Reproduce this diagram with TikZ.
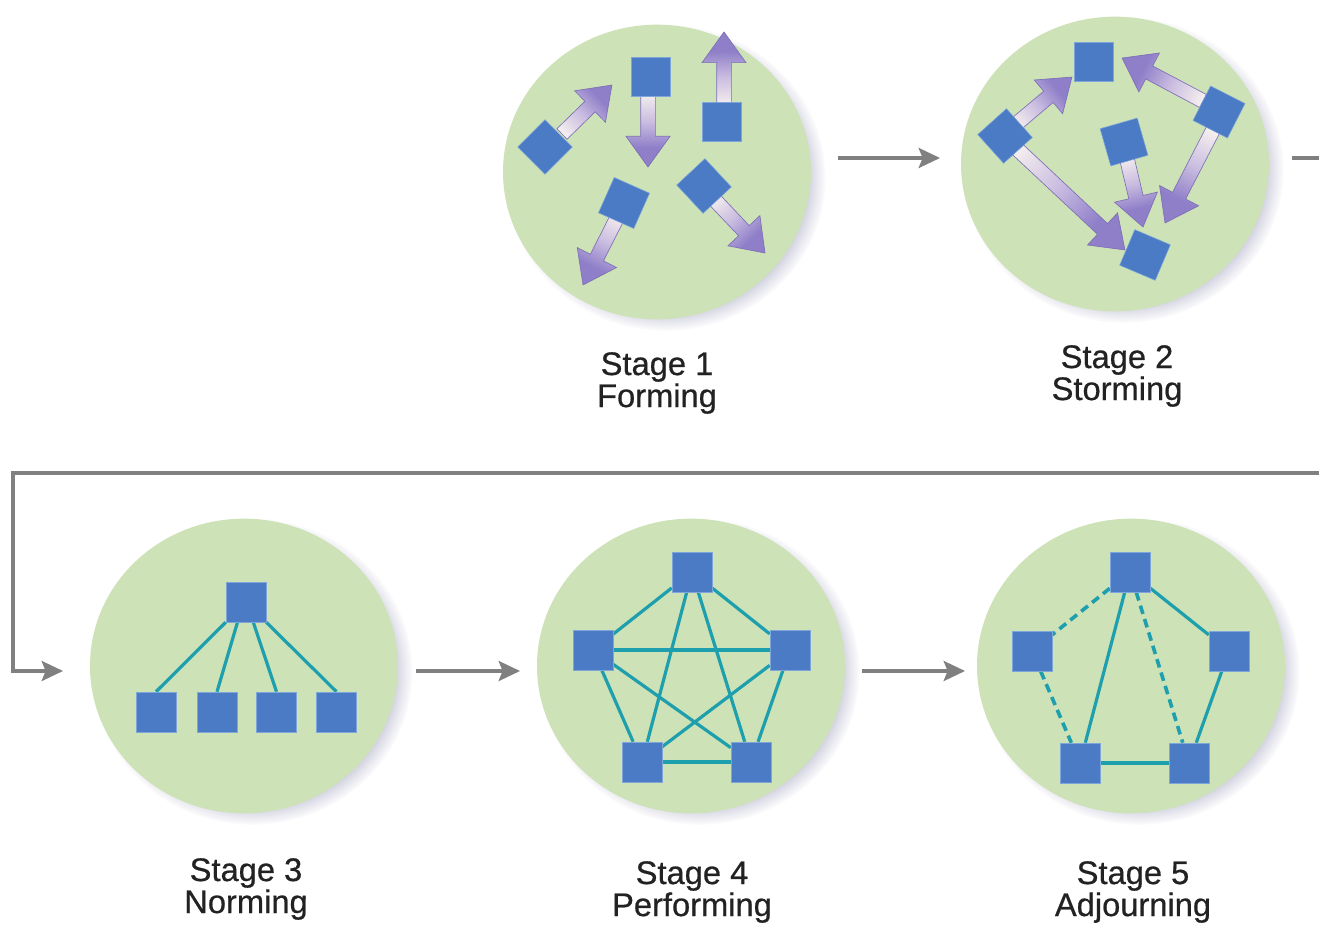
\documentclass[tikz,border=0pt]{standalone}
\usepackage{fontspec}
\newfontfamily\lblfont[FakeBold=0.6]{Liberation Sans}
\usetikzlibrary{shapes.geometric,arrows.meta,calc,shadows,fadings}
\definecolor{circfill}{HTML}{CDE2B6}
\definecolor{sqfill}{HTML}{4A7BC4}
\definecolor{sqedge}{HTML}{7FA6DA}
\definecolor{tealc}{HTML}{1E9FAE}
\definecolor{conngray}{HTML}{808080}
\definecolor{arrtail}{HTML}{F7F1EF}
\definecolor{arrmid}{HTML}{C9BCE0}
\definecolor{arrhead}{HTML}{8F7FC9}
\definecolor{arredge}{HTML}{7E6FB8}
\definecolor{shadowc}{HTML}{9C9CBC}
\definecolor{txtc}{HTML}{222222}
\pgfdeclarehorizontalshading{fatshade}{100bp}{color(0bp)=(arrtail); color(25bp)=(arrtail); color(45bp)=(arrmid); color(62bp)=(arrhead); color(75bp)=(arrhead); color(100bp)=(arrhead)}
\pgfdeclarelayer{bglayer}
\pgfdeclarelayer{circlayer}
\pgfdeclarelayer{linelayer}
\pgfsetlayers{bglayer,circlayer,linelayer,main}
\newcommand{\fatarrow}[2]{%
  \path let \p1=(#1), \p2=(#2) in
    \pgfextra{\pgfmathsetmacro\tmpa{atan2(\y2-\y1,\x2-\x1)}\pgfmathsetmacro\tmpb{veclen(\x2-\x1,\y2-\y1)}\global\let\fatang\tmpa\global\let\fatlen\tmpb};
  \begin{scope}[transform canvas={shift={(#1)},rotate=\fatang}]
    \shadedraw[shading=fatshade, draw=arredge, line width=0.5pt, line join=miter]
      (0pt,-5.5pt) -- ({\fatlen pt-23pt},-5.5pt) -- ({\fatlen pt-23pt},-16.5pt)
      -- (\fatlen pt,0pt) -- ({\fatlen pt-23pt},16.5pt) -- ({\fatlen pt-23pt},5.5pt)
      -- (0pt,5.5pt) -- cycle;
  \end{scope}
}
\tikzset{
  stagecirc/.style={ellipse, fill=circfill, minimum width=231pt, minimum height=221pt, inner sep=0pt,
    circular drop shadow={shadow xshift=6pt, shadow yshift=-4pt, shadow scale=1.04, fill=shadowc, opacity=0.6}},
  sq/.style={rectangle, fill=sqfill, draw=sqedge, line width=0.4pt, minimum size=29pt, inner sep=0pt},
  bsq/.style={rectangle, fill=sqfill, draw=sqedge, line width=0.4pt, minimum size=30pt, inner sep=0pt},
  tl/.style={draw=tealc, line width=2.4pt},
  tld/.style={draw=tealc, line width=2.7pt, dash pattern=on 6.5pt off 4pt},
  conn/.style={draw=conngray, line width=2.6pt, -{Stealth[length=16pt,width=15pt,inset=3pt]}},
  connline/.style={draw=conngray, line width=2.6pt},
  lbl/.style={font=\lblfont\fontsize{24.5pt}{24pt}\selectfont, align=center, text=txtc, inner sep=0pt}
}
\begin{document}
\begin{tikzpicture}[x=0.75pt,y=-0.75pt]
\useasboundingbox (0,0) rectangle (1319,930);
\begin{pgfonlayer}{bglayer}
  \fill[white] (0,0) rectangle (1319,930);
\end{pgfonlayer}

% stage circles
\begin{pgfonlayer}{circlayer}
  \node[stagecirc] (s1) at (657,172) {};
  \node[stagecirc] (s2) at (1115,164) {};
  \node[stagecirc] (s3) at (244,666) {};
  \node[stagecirc] (s4) at (691,666) {};
  \node[stagecirc] (s5) at (1131,666) {};
\end{pgfonlayer}

% ---------- Stage 1 ----------
\node[sq, rotate=45] (f1) at (545,147) {};
\node[sq] (f2) at (651,77) {};
\node[sq] (f3) at (722,122) {};
\node[sq, rotate=-24] (f4) at (624,203) {};
\node[sq, rotate=43] (f5) at (704,186) {};
\coordinate (p1t) at (562,134); \coordinate (p1h) at (612,85);
\coordinate (p2t) at (648,92);  \coordinate (p2h) at (648,167);
\coordinate (p3t) at (724,106); \coordinate (p3h) at (724,32);
\coordinate (p4t) at (619,214); \coordinate (p4h) at (583,285);
\coordinate (p5t) at (712,197); \coordinate (p5h) at (765,253);
\begin{pgfonlayer}{linelayer}
  \fatarrow{p1t}{p1h}
  \fatarrow{p2t}{p2h}
  \fatarrow{p3t}{p3h}
  \fatarrow{p4t}{p4h}
  \fatarrow{p5t}{p5h}
\end{pgfonlayer}

% ---------- Stage 2 ----------
\node[sq] (g1) at (1094,62) {};
\node[sq, rotate=42] (g2) at (1005,136) {};
\node[sq, rotate=-27] (g3) at (1219,112) {};
\node[sq, rotate=16] (g4) at (1124,142) {};
\node[sq, rotate=-23] (g5) at (1145,255) {};
\coordinate (q1t) at (1015,125); \coordinate (q1h) at (1072,77);
\coordinate (q2t) at (1203,101); \coordinate (q2h) at (1122,58);
\coordinate (q3t) at (1015,147); \coordinate (q3h) at (1125,250);
\coordinate (q4t) at (1126,155); \coordinate (q4h) at (1143,227);
\coordinate (q5t) at (1213,130); \coordinate (q5h) at (1165,223);
\begin{pgfonlayer}{linelayer}
  \fatarrow{q1t}{q1h}
  \fatarrow{q2t}{q2h}
  \fatarrow{q3t}{q3h}
  \fatarrow{q4t}{q4h}
  \fatarrow{q5t}{q5h}
\end{pgfonlayer}

% ---------- Stage 3 ----------
\node[bsq] (n0) at (246,602) {};
\node[bsq] (n1) at (156,712) {};
\node[bsq] (n2) at (217,712) {};
\node[bsq] (n3) at (276.5,712) {};
\node[bsq] (n4) at (336.5,712) {};
\begin{pgfonlayer}{linelayer}
  \draw[tl] (n0.south west) -- (n1.north);
  \draw[tl] ($(n0.south west)!0.29!(n0.south east)$) -- (n2.north);
  \draw[tl] ($(n0.south west)!0.68!(n0.south east)$) -- (n3.north);
  \draw[tl] (n0.south east) -- (n4.north);
\end{pgfonlayer}

% ---------- Stage 4 ----------
\node[bsq] (m1) at (692,572) {};
\node[bsq] (m2) at (593,650) {};
\node[bsq] (m3) at (790,650) {};
\node[bsq] (m4) at (642,762) {};
\node[bsq] (m5) at (751,762) {};
\begin{pgfonlayer}{linelayer}
  \draw[tl] (m1) -- (m2);
  \draw[tl] (m1) -- (m3);
  \draw[tl] (m1) -- (m4);
  \draw[tl] (m1) -- (m5);
  \draw[tl] (m2) -- (m3);
  \draw[tl] (m2) -- (m4);
  \draw[tl] (m2) -- (m5);
  \draw[tl] (m3) -- (m4);
  \draw[tl] (m3) -- (m5);
  \draw[tl] (m4) -- (m5);
\end{pgfonlayer}

% ---------- Stage 5 ----------
\node[bsq] (k1) at (1130,572) {};
\node[bsq] (k2) at (1032,651) {};
\node[bsq] (k3) at (1229,651) {};
\node[bsq] (k4) at (1080,763) {};
\node[bsq] (k5) at (1189,763) {};
\begin{pgfonlayer}{linelayer}
  \draw[tld] (k1) -- (k2);
  \draw[tld] (k2) -- (k4);
  \draw[tld] (k1) -- (k5);
  \draw[tl] (k1) -- (k4);
  \draw[tl] (k1) -- (k3);
  \draw[tl] (k3) -- (k5);
  \draw[tl] (k4) -- (k5);
\end{pgfonlayer}

% ---------- connectors ----------
\coordinate (c12a) at (838,158); \coordinate (c12b) at (940,158);
\draw[conn] (c12a) -- (c12b);
\coordinate (c2a) at (1292,158); \coordinate (c2b) at (1320,158);
\draw[connline] (c2a) -- (c2b);
\coordinate (r0) at (1320,473); \coordinate (r1) at (13,473);
\coordinate (r2) at (13,671); \coordinate (r3) at (63,671);
\draw[conn, line join=miter] (r0) -- (r1) -- (r2) -- (r3);
\coordinate (c34a) at (416,671); \coordinate (c34b) at (520,671);
\draw[conn] (c34a) -- (c34b);
\coordinate (c45a) at (862,671); \coordinate (c45b) at (965,671);
\draw[conn] (c45a) -- (c45b);

% ---------- labels ----------
\node[lbl] (l1) at (657,383) {Stage 1\\Forming};
\node[lbl] (l2) at (1117,376) {Stage 2\\Storming};
\node[lbl] (l3) at (246,889) {Stage 3\\Norming};
\node[lbl] (l4) at (692,892) {Stage 4\\Performing};
\node[lbl] (l5) at (1133,892) {Stage 5\\Adjourning};
\end{tikzpicture}
\end{document}
